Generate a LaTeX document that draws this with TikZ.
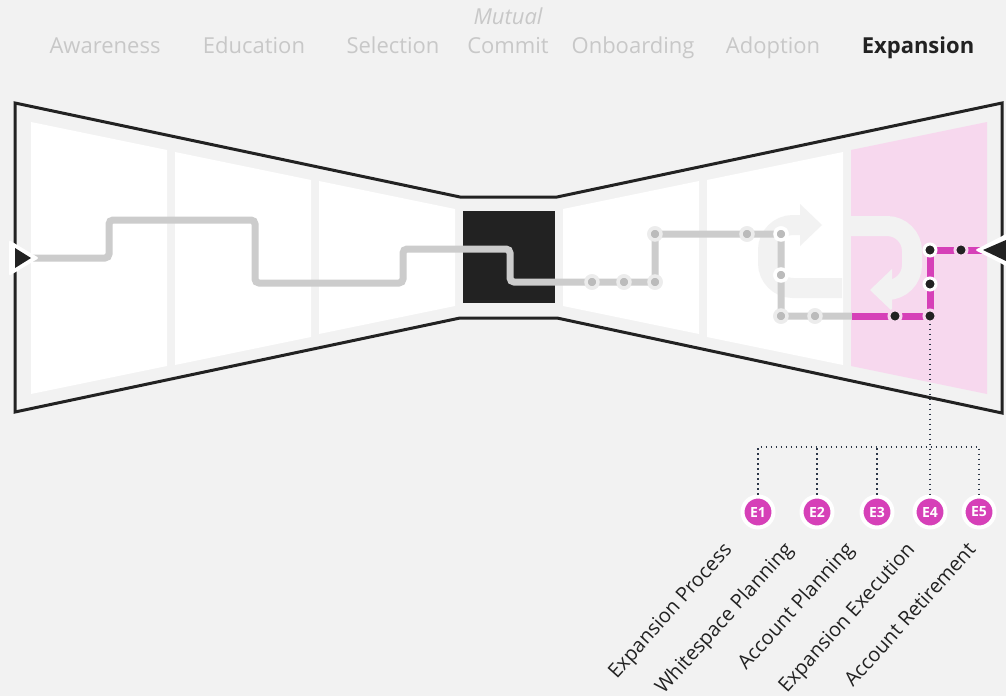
\documentclass[tikz,border=0pt]{standalone}
\usepackage{fontspec}
\setmainfont{Open Sans}
\usetikzlibrary{arrows.meta, positioning}

\definecolor{bgc}{RGB}{242,242,242}
\definecolor{ink}{RGB}{34,34,34}
\definecolor{pathgray}{RGB}{204,204,204}
\definecolor{dotgray}{RGB}{187,187,187}
\definecolor{ringgray}{RGB}{236,236,236}
\definecolor{magenta1}{RGB}{214,64,184}
\definecolor{pinkbg}{RGB}{247,216,238}
\definecolor{headgray}{RGB}{200,200,200}
\definecolor{leadc}{RGB}{45,55,72}

\begin{document}
\begin{tikzpicture}[
    x=1pt, y=-1pt,
    stage/.style={anchor=base, text=headgray, font=\fontsize{22}{26}\selectfont},
    panel/.style={fill=white},
    route/.style={draw=pathgray, line width=7, rounded corners=4},
    hot/.style={draw=magenta1, line width=7},
    loop/.style={draw=bgc, line width=20, rounded corners=25},
    waypt/.style={circle, fill=dotgray, draw=ringgray, line width=3.5, minimum size=12, inner sep=0},
    hotdot/.style={circle, fill=ink, draw=pinkbg, line width=3, minimum size=12, inner sep=0},
    badge/.style={circle, fill=magenta1, draw=white, line width=4, minimum size=31, inner sep=0,
                  text=white, font=\fontsize{14}{16}\selectfont\bfseries},
    leader/.style={draw=leadc, line width=1.6, dash pattern=on 1.6pt off 3.4pt},
    lab/.style={anchor=base east, rotate=48, text=ink, font=\fontsize{20}{24}\selectfont}
]

\useasboundingbox (0,0) rectangle (1006,696);
\fill[bgc] (0,0) rectangle (1006,696);

% Stage headers
\node[stage] (aware) at (105,53) {Awareness};
\node[stage] (edu) at (254,53) {Education};
\node[stage] (sel) at (393,53) {Selection};
\node[stage] (commit) at (508,53) {Commit};
\node[stage, font=\fontsize{22}{26}\selectfont\itshape] (mutual) at (508,24) {Mutual};
\node[stage] (onb) at (633,53) {Onboarding};
\node[stage] (adopt) at (773,53) {Adoption};
\node[stage, text=ink, font=\fontsize{22}{26}\selectfont\bfseries] (expand) at (918,53) {Expansion};

% Bow tie
\draw[ink, line width=3] (15,103) -- (460,197) -- (557,197) -- (1002,103) -- (1002,413)
    -- (557,318) -- (460,318) -- (15,412) -- cycle;

% Panels
\fill[panel] (31,122) -- (167,150) -- (167,366) -- (31,394) -- cycle;
\fill[panel] (175,152) -- (311,180) -- (311,337) -- (175,365) -- cycle;
\fill[panel] (319,181) -- (455,209) -- (455,306) -- (319,334) -- cycle;
\fill[panel] (563,209) -- (699,181) -- (699,334) -- (563,306) -- cycle;
\fill[panel] (707,180) -- (843,152) -- (843,365) -- (707,337) -- cycle;
\fill[panel, fill=pinkbg] (851,150) -- (987,122) -- (987,394) -- (851,366) -- cycle;

% Commit box
\fill[ink] (463,211) rectangle (555,303);

% Loop arrows
\draw[loop] (842,288) -| (768,225) -- (802,225);
\fill[bgc] (800,204) -- (822,225) -- (800,246) -- cycle;
\draw[loop] (850,226) -| (912,290) -- (890,290);
\fill[bgc] (892,269) -- (870,290) -- (892,311) -- cycle;

% Route points
\coordinate (entry) at (31,258);
\coordinate (exit) at (983,250);
\coordinate (m0) at (852,316);
\node[waypt] (d1) at (592,282) {};
\node[waypt] (d2) at (624,282) {};
\node[waypt] (d3) at (655,282) {};
\node[waypt] (d4) at (655,234) {};
\node[waypt] (d5) at (747,234) {};
\node[waypt, draw=white] (d6) at (781,234) {};
\node[waypt, draw=white] (d7) at (781,275) {};
\node[waypt] (d8) at (781,316) {};
\node[waypt] (d9) at (815,316) {};

% Route
\draw[route] (entry) -- (109,258) -- (109,220) -- (255,220) -- (255,283) -- (403,283)
    -- (403,249) -- (510,249) -- (510,282) -- (d1.center) -- (d3.center) -- (d4.center)
    -- (d6.center) -- (d8.center) -- (m0);
\draw[hot] (m0) -- (930,316) -- (930,250) -- (exit);

% Dots on top
\foreach \n/\x/\y in {d1/592/282, d2/624/282, d3/655/282, d4/655/234, d5/747/234, d8/781/316, d9/815/316}
    \node[waypt] at (\x,\y) {};
\node[waypt, draw=white] at (d6) {};
\node[waypt, draw=white] at (d7) {};
\node[hotdot] (k1) at (895,316) {};
\node[hotdot] (k2) at (930,316) {};
\node[hotdot, draw=white] (k3) at (930,284) {};
\node[hotdot, draw=white] (k4) at (930,250) {};
\node[hotdot] (k5) at (961,250) {};

% Entry and exit marks
\fill[white, rounded corners=2] (9,240) -- (39,258) -- (9,276) -- cycle;
\fill[ink] (15,248) -- (31,258) -- (15,268) -- cycle;
\fill[white, rounded corners=2] (1010,232) -- (975,250) -- (1010,268) -- cycle;
\fill[ink] (1006,240) -- (983,250) -- (1006,261) -- cycle;

% Steps
\node[badge] (e1) at (758,512) {E1};
\node[badge] (e2) at (817,512) {E2};
\node[badge] (e3) at (877,512) {E3};
\node[badge] (e4) at (930,512) {E4};
\node[badge] (e5) at (979,512) {E5};

\coordinate (t1) at (758,447);
\coordinate (t2) at (817,447);
\coordinate (t3) at (877,447);
\coordinate (t5) at (979,447);
\draw[leader] (k2) -- (e4);
\draw[leader] (e1) -- (t1) -- (t5) -- (e5);
\draw[leader] (e2) -- (t2);
\draw[leader] (e3) -- (t3);

% Step labels
\node[lab] (l1) at (735,548) {Expansion Process};
\node[lab] (l2) at (796,548) {Whitespace Planning};
\node[lab] (l3) at (857,548) {Account Planning};
\node[lab] (l4) at (918,548) {Expansion Execution};
\node[lab] (l5) at (979,548) {Account Retirement};

\end{tikzpicture}
\end{document}
